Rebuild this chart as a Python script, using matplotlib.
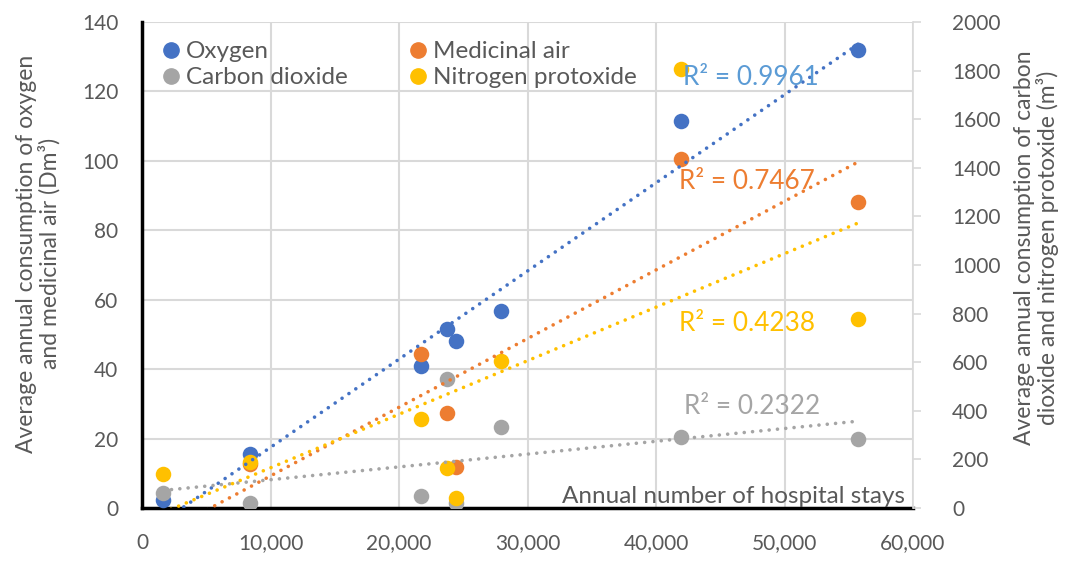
import numpy as np
import matplotlib
matplotlib.use("Agg")
import matplotlib.pyplot as plt
from matplotlib.lines import Line2D

plt.rcParams['font.family'] = ['Lato', 'DejaVu Sans']

# ---- data ----
stays = [1650, 8420, 21750, 23770, 24470, 27900, 41930, 55730]
oxygen = [2.3, 15.6, 40.9, 51.6, 48.1, 56.8, 111.5, 132.0]
med_air_stays = [8420, 21750, 23770, 24470, 41930, 55730]
med_air = [12.7, 44.4, 27.4, 11.8, 100.5, 88.2]
co2 = [62, 21, 49, 531, 21, 333, 292, 284]
n2o = [140, 189, 366, 165, 41, 605, 1807, 778]
r2_labels = ["R² = 0.9961", "R² = 0.7467", "R² = 0.4238", "R² = 0.2322"]
x_ticks = [0, 10000, 20000, 30000, 40000, 50000, 60000]
left_ticks = [0, 20, 40, 60, 80, 100, 120, 140]
right_ticks = list(range(0, 2001, 200))

C_BLUE, C_ORANGE, C_GRAY, C_YELLOW = '#4472C4', '#ED7D31', '#A5A5A5', '#FFC000'
TXT = '#595959'
GRID = '#D9D9D9'

fig = plt.figure(figsize=(10.67, 5.61), dpi=100)
ax = fig.add_axes([142/1067, 53/561, 771/1067, 486/561])
ax2 = ax.twinx()

ax.set_xlim(0, 60000)
ax.set_ylim(0, 140)
ax2.set_ylim(0, 2000)

ax.set_xticks(x_ticks)
ax.set_xticklabels([f"{v:,}" for v in x_ticks])
ax.set_yticks(left_ticks)
ax2.set_yticks(right_ticks)

ax.grid(True, color=GRID, linewidth=1.5, zorder=0)
ax.set_axisbelow(True)
ax.tick_params(axis='y', length=0, labelsize=15, labelcolor=TXT, pad=17)
ax.tick_params(axis='x', length=0, labelsize=15, labelcolor=TXT, pad=18)
ax2.tick_params(axis='y', length=6, color=GRID, width=1.2, labelsize=15,
                labelcolor=TXT, pad=22)

ax.spines['top'].set_visible(False)
ax2.spines['top'].set_visible(False)
ax.spines['right'].set_visible(False)
ax2.spines['left'].set_visible(False)
ax2.spines['bottom'].set_visible(False)
ax2.spines['right'].set_color(GRID)
ax2.spines['right'].set_linewidth(1.2)
for s in ('left', 'bottom'):
    ax.spines[s].set_linewidth(2.5)
    ax.spines[s].set_color('black')

ms = 125
ax.scatter(stays, oxygen, s=ms, color=C_BLUE, zorder=3, linewidths=0)
ax.scatter(med_air_stays, med_air, s=ms, color=C_ORANGE, zorder=3, linewidths=0)
ax2.scatter(stays, co2, s=ms, color=C_GRAY, zorder=3, linewidths=0)
ax2.scatter(stays, n2o, s=ms, color=C_YELLOW, zorder=3, linewidths=0)

# linear trendlines (drawn on top axes so they cover all markers)
xr = np.array([min(stays), max(stays)])
dot = dict(linestyle=(0, (0.01, 2.3)), linewidth=2.6, dash_capstyle='round', zorder=5)
for xs, ys, col, tr in [(stays, oxygen, C_BLUE, ax.transData),
                        (med_air_stays, med_air, C_ORANGE, ax.transData),
                        (stays, co2, C_GRAY, ax2.transData),
                        (stays, n2o, C_YELLOW, ax2.transData)]:
    k, b = np.polyfit(xs, ys, 1)
    ax2.plot(xr, k * xr + b, color=col, transform=tr, **dot)

# R² labels
r2_pos = [(0.702, 0.885, '#5B9BD5'), (0.696, 0.671, C_ORANGE),
          (0.696, 0.379, C_YELLOW), (0.703, 0.208, C_GRAY)]
for lab, (px, py, col) in zip(r2_labels, r2_pos):
    ax2.text(px, py, lab, transform=ax.transAxes, color=col, fontsize=18.8,
             ha='left', va='center', zorder=6)

ax2.text(0.99, 0.023, "Annual number of hospital stays", transform=ax.transAxes,
         color=TXT, fontsize=17.5, ha='right', va='center', zorder=6)

ax.text(-0.135, 0.523, "Average annual consumption of oxygen\nand medicinal air (Dm³)",
        transform=ax.transAxes, rotation=90, ha='center', va='center',
        multialignment='center', fontsize=16.5, color=TXT, linespacing=1.05)
ax2.text(1.16, 0.535, "Average annual consumption of carbon\ndioxide and nitrogen protoxide (m³)",
         transform=ax.transAxes, rotation=90, ha='center', va='center',
         multialignment='center', fontsize=16.5, color=TXT, linespacing=1.05)

handles = [Line2D([], [], marker='o', linestyle='', color=c, markersize=11)
           for c in (C_BLUE, C_ORANGE, C_GRAY, C_YELLOW)]
labels = ["Oxygen", "Medicinal air", "Carbon dioxide", "Nitrogen protoxide"]
order = [0, 2, 1, 3]
leg = ax2.legend([handles[i] for i in order], [labels[i] for i in order], ncol=2,
                 loc='upper left', bbox_to_anchor=(0.0, 0.995), frameon=False,
                 fontsize=17.5, handletextpad=0.1, columnspacing=2.4,
                 labelspacing=0.2, handlelength=1.0, borderaxespad=0.3)
for t in leg.get_texts():
    t.set_color(TXT)

fig.savefig("out.png", dpi=100)
